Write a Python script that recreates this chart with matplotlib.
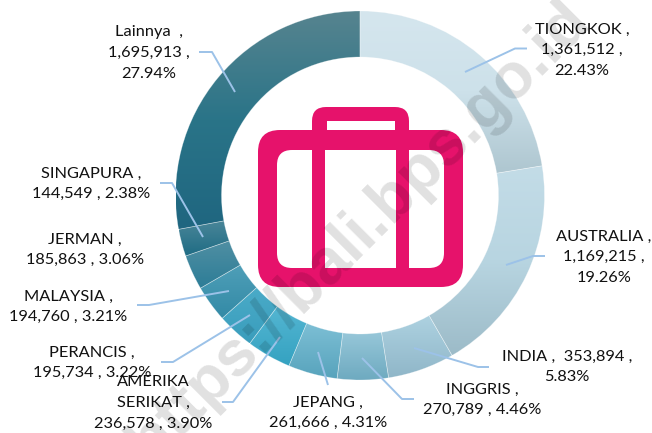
import matplotlib
matplotlib.use("Agg")
import matplotlib.pyplot as plt
import numpy as np
from matplotlib.colors import LinearSegmentedColormap
from matplotlib.patches import FancyBboxPatch, Rectangle

categories = ["TIONGKOK", "AUSTRALIA", "INDIA", "INGGRIS", "JEPANG", "AMERIKA SERIKAT",
              "PERANCIS", "MALAYSIA", "JERMAN", "SINGAPURA", "Lainnya"]
values = [1361512, 1169215, 353894, 270789, 261666, 236578, 195734, 194760, 185863, 144549, 1695913]
percents = ["22.43", "19.26", "5.83", "4.46", "4.31", "3.90", "3.22", "3.21", "3.06", "2.38", "27.94"]

# how each label breaks its lines
label_formats = ["{c} ,\n{v} ,\n{p}%", "{c} ,\n{v} ,\n{p}%", "{c} ,  {v} ,\n{p}%", "{c} ,\n{v} , {p}%",
                 "{c} ,\n{v} , {p}%", "{c} ,\n{v} , {p}%", "{c} ,\n{v} , {p}%", "{c} ,\n{v} , {p}%",
                 "{c} ,\n{v} , {p}%", "{c} ,\n{v} , {p}%", "{c}  ,\n{v} ,\n{p}%"]
label_pos = [(582, 50), (604, 257), (567, 367), (482, 400), (328, 413), (153, 403),
             (92, 363), (68, 307), (85, 250), (91, 184), (149, 53)]

# leader lines in picture pixels (y down)
leaders = [[(465, 72), (515, 48.5), (527, 48.5)],
           [(506, 265), (533, 256), (545, 256)],
           [(414, 348), (478, 367), (489, 367)],
           [(362, 358), (402, 399), (414, 399)],
           [(318, 352), (328, 385)],
           [(280, 337), (233, 402), (222, 402)],
           [(250, 315), (173, 362), (161, 362)],
           [(229, 291), (149, 305), (137, 305)],
           [(203, 237), (172, 183), (160, 183)],
           [(235, 92), (212, 52), (199, 52)]]

# gradient per slice, top colour to bottom colour
slice_colors = [["#d5e6ee", "#cde1ea", "#aec6d0"], ["#c3dce7", "#b8d5e1", "#9cbbc8"], ["#aed2e1", "#8fb6c8"],
                ["#97c7d9", "#6eaac0"], ["#7dbfd5", "#57a3bc"], ["#55b6d2", "#34a2c1"],
                ["#4aabc8", "#3a9dbc"], ["#4f9fb8", "#338aa6"], ["#508fa3", "#2d7d97"],
                ["#4a8699", "#1f6c84"], ["#57848f", "#2a7488", "#1f6680"]]

W, H = 652, 433
CX, CY, R_OUT, R_IN = 360, 195.5, 184.5, 138.5
PINK = "#e6126b"


def py(y):
    return H - y


fig = plt.figure(figsize=(6.52, 4.33), dpi=100)
ax = fig.add_axes([0, 0, 1, 1])

wedges, _ = ax.pie(values, startangle=90, counterclock=False, radius=R_OUT, center=(CX, py(CY)),
                   wedgeprops=dict(width=R_OUT - R_IN, facecolor="none", edgecolor=(1, 1, 1, 0.35), linewidth=0.5))
for wedge, stops in zip(wedges, slice_colors):
    box = wedge.get_path().get_extents()
    cmap = LinearSegmentedColormap.from_list("s", stops)
    im = ax.imshow(np.linspace(0, 1, 256).reshape(-1, 1), cmap=cmap, aspect="auto", zorder=0.5,
                   extent=(box.x0, box.x1, box.y0, box.y1), origin="upper")
    im.set_clip_path(wedge)
    wedge.set_zorder(1)

ax.set_xlim(0, W)
ax.set_ylim(0, H)
ax.set_aspect("auto")
ax.axis("off")

# suitcase icon
def rounded(x0, y0, x1, y1, r, color):
    ax.add_patch(FancyBboxPatch((x0 + r, py(y1) + r), x1 - x0 - 2 * r, y1 - y0 - 2 * r, linewidth=0,
                                boxstyle="round,pad=%g,rounding_size=%g" % (r, r), facecolor=color, zorder=2))


rounded(312, 107, 409, 150, 14, PINK)
ax.add_patch(Rectangle((327, py(130)), 68, 9, facecolor="white", linewidth=0, zorder=2.1))
rounded(258, 130, 463, 287, 22, PINK)
rounded(277, 150, 330, 268, 15, "white")
rounded(391, 150, 444, 268, 15, "white")
ax.add_patch(Rectangle((312, py(287)), 97, 157, facecolor=PINK, linewidth=0, zorder=2.2))
ax.add_patch(Rectangle((325, py(268)), 71, 118, facecolor="white", linewidth=0, zorder=2.3))

for pts in leaders:
    xs = [p[0] for p in pts]
    ys = [py(p[1]) for p in pts]
    ax.plot(xs, ys, color="#9cc2e8", linewidth=1.4, zorder=3, solid_capstyle="butt")

for cat, val, pct, fmt, pos in zip(categories, values, percents, label_formats, label_pos):
    txt = fmt.format(c=cat.replace(" ", "\n"), v=f"{val:,}", p=pct)
    ax.text(pos[0], py(pos[1]), txt, ha="center", va="center", fontsize=11.8, family="Lato",
            color="#111111", linespacing=1.6, zorder=4)

# the "h" runs off the picture, same as the reference
ax.text(150, py(464), "https://bali.bps.go.id", rotation=45, rotation_mode="anchor", ha="left", va="baseline",
        fontsize=46, fontweight="bold", family="Liberation Sans", color="black", alpha=0.12, zorder=5)

fig.savefig("out.png", dpi=100)
